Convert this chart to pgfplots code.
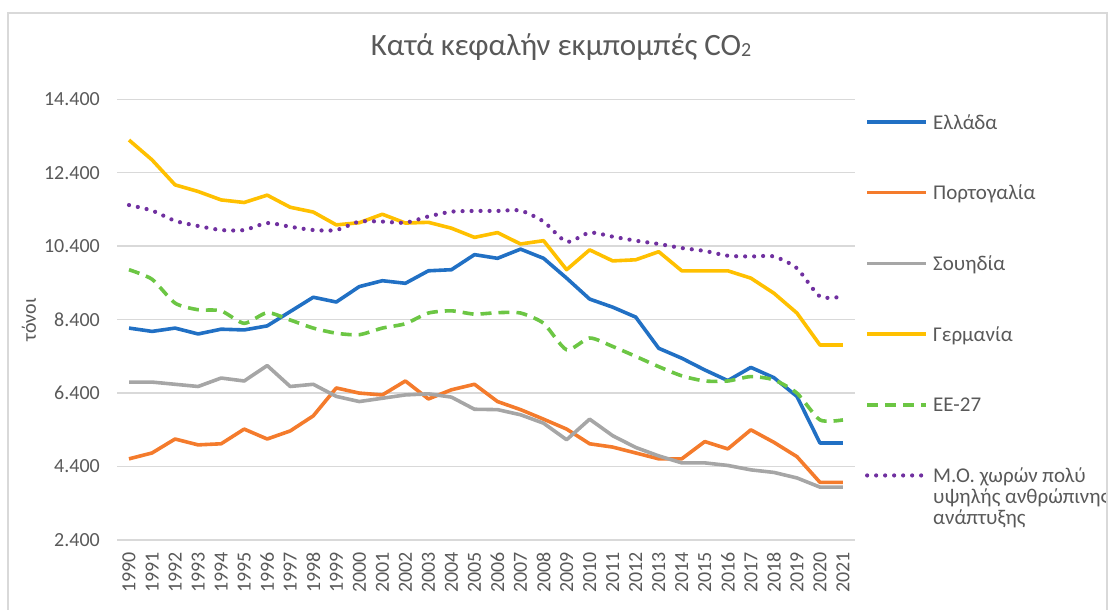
\documentclass[border=0pt]{standalone}
\usepackage{fontspec}
\setmainfont{Carlito}
\usepackage{pgfplots}
\usepackage{pgfplotstable}
\pgfplotsset{compat=1.18}
\definecolor{cblue}{HTML}{2170C4}
\definecolor{corange}{HTML}{F47B2C}
\definecolor{cgray}{HTML}{A6A6A6}
\definecolor{cyellow}{HTML}{FFC000}
\definecolor{cgreen}{HTML}{6CC644}
\definecolor{cpurple}{HTML}{7030A0}
\definecolor{textgray}{HTML}{595959}
\definecolor{gridgray}{HTML}{D9D9D9}
\newcommand\legtxt[1]{\raisebox{0pt}[16pt][4pt]{#1}}
\pgfplotstableread{
year gr pt se de eu hdi
1990 8.17 4.61 6.70 13.29 9.76 11.52
1991 8.08 4.77 6.70 12.75 9.50 11.37
1992 8.17 5.15 6.64 12.07 8.85 11.09
1993 8.01 4.99 6.58 11.89 8.67 10.95
1994 8.14 5.02 6.81 11.66 8.64 10.84
1995 8.12 5.42 6.73 11.59 8.30 10.84
1996 8.23 5.15 7.15 11.79 8.59 11.03
1997 8.62 5.37 6.58 11.46 8.39 10.93
1998 9.01 5.78 6.64 11.33 8.17 10.84
1999 8.88 6.54 6.31 10.98 8.03 10.84
2000 9.30 6.40 6.17 11.04 7.99 11.07
2001 9.46 6.35 6.26 11.27 8.17 11.07
2002 9.39 6.73 6.35 11.03 8.29 11.04
2003 9.73 6.24 6.38 11.05 8.58 11.21
2004 9.76 6.49 6.29 10.89 8.64 11.34
2005 10.17 6.64 5.96 10.64 8.55 11.36
2006 10.07 6.17 5.95 10.77 8.59 11.36
2007 10.32 5.95 5.81 10.46 8.58 11.37
2008 10.07 5.69 5.58 10.55 8.30 11.07
2009 9.53 5.42 5.13 9.76 7.58 10.52
2010 8.96 5.02 5.69 10.30 7.90 10.77
2011 8.74 4.93 5.24 10.00 7.67 10.66
2012 8.47 4.77 4.92 10.03 7.40 10.55
2013 7.62 4.61 4.69 10.25 7.12 10.46
2014 7.35 4.61 4.50 9.73 6.87 10.35
2015 7.03 5.08 4.50 9.73 6.73 10.27
2016 6.74 4.88 4.43 9.73 6.73 10.14
2017 7.10 5.40 4.31 9.53 6.85 10.12
2018 6.82 5.06 4.24 9.12 6.76 10.12
2019 6.31 4.67 4.09 8.58 6.40 9.80
2020 5.04 3.97 3.84 7.71 5.67 9.03
2021 5.04 3.97 3.84 7.71 5.67 9.03
}\data
\begin{document}
\begin{tikzpicture}
\path[use as bounding box] (-117.5pt,-70pt) rectangle (990.5pt,540pt);
\begin{axis}[
  scale only axis, width=737pt, height=440.7pt,
  xmin=1989.5, xmax=2021.5, ymin=2.4, ymax=14.4,
  axis line style={draw=none},
  major tick length=0pt,
  xtick={1990,1991,1992,1993,1994,1995,1996,1997,1998,1999,2000,2001,2002,2003,2004,2005,2006,2007,2008,2009,2010,2011,2012,2013,2014,2015,2016,2017,2018,2019,2020,2021},
  xticklabels={1990,1991,1992,1993,1994,1995,1996,1997,1998,1999,2000,2001,2002,2003,2004,2005,2006,2007,2008,2009,2010,2011,2012,2013,2014,2015,2016,2017,2018,2019,2020,2021},
  ytick={2.4,4.4,6.4,8.4,10.4,12.4,14.4},
  yticklabels={2.400,4.400,6.400,8.400,10.400,12.400,14.400},
  ymajorgrids, grid style={draw=gridgray, line width=1.5pt},
  tick label style={font=\fontsize{20}{24}\selectfont, text=textgray},
  yticklabel style={anchor=east, inner sep=0pt},
  yticklabel shift=17.5pt,
  xticklabel style={rotate=90, anchor=east, inner sep=0pt},
  xticklabel shift=12pt,
  ylabel={τόνοι},
  ylabel style={at={(axis description cs:-0.1201,0.5)}, anchor=center, font=\fontsize{20}{24}\selectfont, text=textgray},
  title={Κατά κεφαλήν εκμπομπές CO\raisebox{-1pt}{\fontsize{20}{20}\selectfont 2}},
  title style={at={(axis description cs:0.6018,1.0853)}, anchor=base, font=\fontsize{31}{36}\selectfont, text=textgray, inner sep=0pt},
  legend style={at={(axis description cs:1.0143,0.973)}, anchor=north west, draw=none, fill=none,
    inner sep=0pt, outer sep=0pt, row sep=49.2pt, column sep=3pt,
    font=\fontsize{21}{21}\selectfont, text=textgray, cells={anchor=west}},
  legend image code/.code={\draw[#1] (0pt,0pt) -- (59pt,0pt);},
  every axis plot/.append style={line join=round},
]
\addplot[cblue, line width=3.6pt] table[x=year,y=gr]{\data};
\addlegendentry{\legtxt{Ελλάδα}}
\addplot[corange, line width=3.6pt] table[x=year,y=pt]{\data};
\addlegendentry{\legtxt{Πορτογαλία}}
\addplot[cgray, line width=3.6pt] table[x=year,y=se]{\data};
\addlegendentry{\legtxt{Σουηδία}}
\addplot[cyellow, line width=3.6pt] table[x=year,y=de]{\data};
\addlegendentry{\legtxt{Γερμανία}}
\addplot[cgreen, line width=3.6pt, dash pattern=on 11pt off 7pt, smooth, tension=0.4] table[x=year,y=eu]{\data};
\addlegendentry{\legtxt{ΕΕ-27}}
\addplot[cpurple, line width=4.2pt, line cap=round, dash pattern=on 0pt off 9pt, smooth, tension=0.4] table[x=year,y=hdi]{\data};
\addlegendentry{\legtxt{\begin{tabular}[t]{@{}l@{}}Μ.Ο. χωρών πολύ\\υψηλής ανθρώπινης\\ανάπτυξης\end{tabular}}}
\end{axis}
\draw[gridgray, line width=1.5pt] (-109.5pt,-70pt) -- (-109.5pt,527pt) -- (989.5pt,527pt) -- (989.5pt,-70pt);
\end{tikzpicture}
\end{document}
